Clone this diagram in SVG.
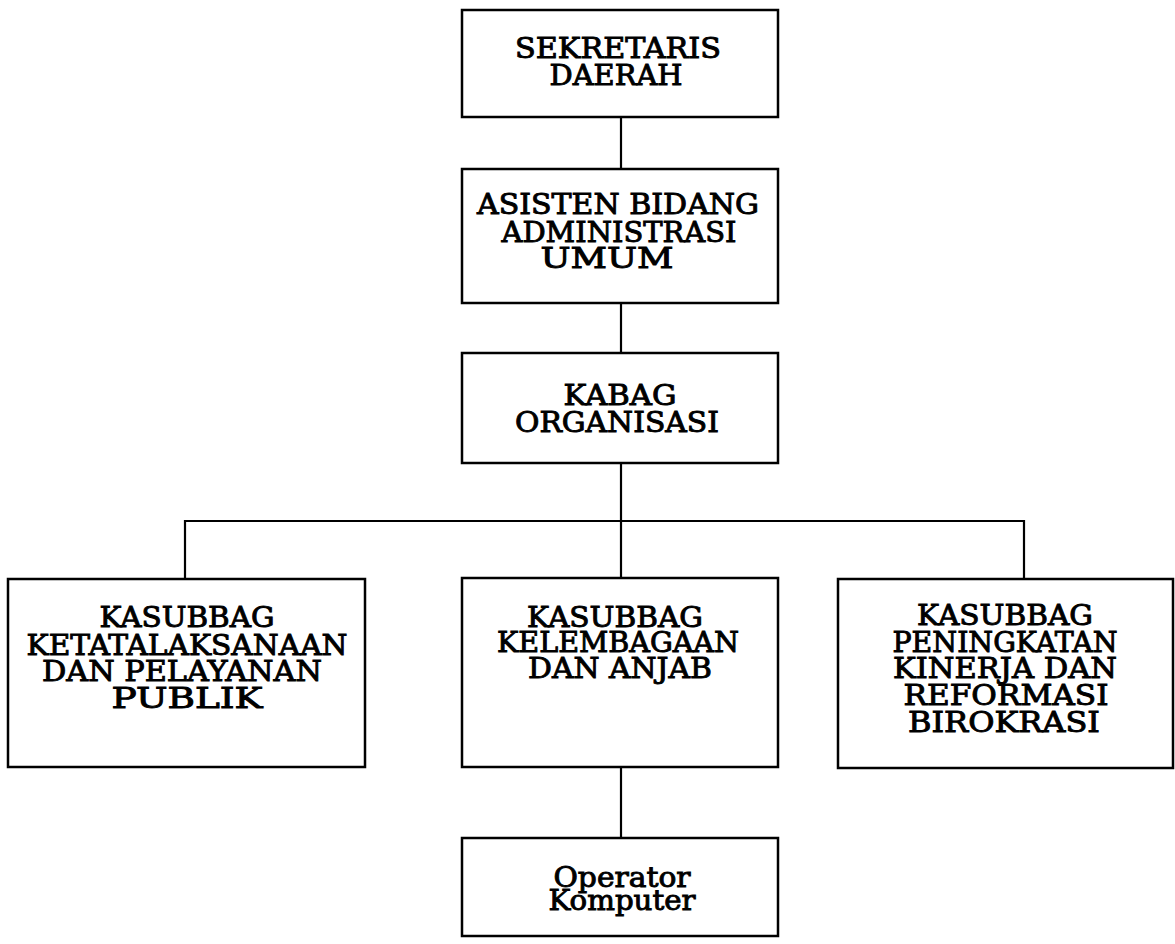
<svg xmlns="http://www.w3.org/2000/svg" width="1175" height="944" viewBox="0 0 1175 944">
<style>
.box{fill:#fff;stroke:#000;stroke-width:2.5}
.lbl{font-family:"DejaVu Serif","Liberation Serif",serif;font-size:27px;fill:#000;text-anchor:middle;stroke:#000;stroke-width:0.9}
.con{fill:none;stroke:#000;stroke-width:2.2}
</style>
<rect width="1175" height="944" fill="#fff"/>
<g id="connectors">
<line class="con" x1="621" y1="117" x2="621" y2="169"/>
<line class="con" x1="621" y1="303" x2="621" y2="353"/>
<line class="con" x1="621" y1="463" x2="621" y2="578"/>
<polyline class="con" points="185,579 185,521 1024,521 1024,579"/>
<line class="con" x1="621" y1="767" x2="621" y2="838"/>
</g>
<g id="sekretaris">
<rect class="box" x="462" y="10" width="316" height="107"/>
<text class="lbl" x="618" y="58" textLength="206" lengthAdjust="spacingAndGlyphs">SEKRETARIS</text>
<text class="lbl" x="616" y="85" textLength="133" lengthAdjust="spacingAndGlyphs">DAERAH</text>
</g>
<g id="asisten">
<rect class="box" x="462" y="169" width="316" height="134"/>
<text class="lbl" x="618" y="214" textLength="282" lengthAdjust="spacingAndGlyphs">ASISTEN BIDANG</text>
<text class="lbl" x="619" y="242" textLength="235" lengthAdjust="spacingAndGlyphs">ADMINISTRASI</text>
<text class="lbl" x="607" y="268" textLength="133" lengthAdjust="spacingAndGlyphs">UMUM</text>
</g>
<g id="kabag">
<rect class="box" x="462" y="353" width="316" height="110"/>
<text class="lbl" x="620" y="405" textLength="113" lengthAdjust="spacingAndGlyphs">KABAG</text>
<text class="lbl" x="617" y="432" textLength="204" lengthAdjust="spacingAndGlyphs">ORGANISASI</text>
</g>
<g id="ketatalaksanaan">
<rect class="box" x="8" y="579" width="357" height="188"/>
<text class="lbl" x="187" y="627" textLength="175" lengthAdjust="spacingAndGlyphs">KASUBBAG</text>
<text class="lbl" x="187" y="655" textLength="321" lengthAdjust="spacingAndGlyphs">KETATALAKSANAAN</text>
<text class="lbl" x="182" y="681" textLength="280" lengthAdjust="spacingAndGlyphs">DAN PELAYANAN</text>
<text class="lbl" x="187" y="708" textLength="151" lengthAdjust="spacingAndGlyphs">PUBLIK</text>
</g>
<g id="kelembagaan">
<rect class="box" x="462" y="578" width="316" height="189"/>
<text class="lbl" x="615" y="627" textLength="176" lengthAdjust="spacingAndGlyphs">KASUBBAG</text>
<text class="lbl" x="618" y="652" textLength="242" lengthAdjust="spacingAndGlyphs">KELEMBAGAAN</text>
<text class="lbl" x="620" y="678" textLength="184" lengthAdjust="spacingAndGlyphs">DAN ANJAB</text>
</g>
<g id="peningkatan">
<rect class="box" x="838" y="579" width="335" height="189"/>
<text class="lbl" x="1005" y="625" textLength="176" lengthAdjust="spacingAndGlyphs">KASUBBAG</text>
<text class="lbl" x="1005" y="652" textLength="225" lengthAdjust="spacingAndGlyphs">PENINGKATAN</text>
<text class="lbl" x="1005" y="678" textLength="224" lengthAdjust="spacingAndGlyphs">KINERJA DAN</text>
<text class="lbl" x="1006" y="705" textLength="205" lengthAdjust="spacingAndGlyphs">REFORMASI</text>
<text class="lbl" x="1004" y="732" textLength="192" lengthAdjust="spacingAndGlyphs">BIROKRASI</text>
</g>
<g id="operator">
<rect class="box" x="462" y="838" width="316" height="98"/>
<text class="lbl" x="622" y="887" textLength="137" lengthAdjust="spacingAndGlyphs">Operator</text>
<text class="lbl" x="622" y="910" textLength="147" lengthAdjust="spacingAndGlyphs">Komputer</text>
</g>
</svg>
